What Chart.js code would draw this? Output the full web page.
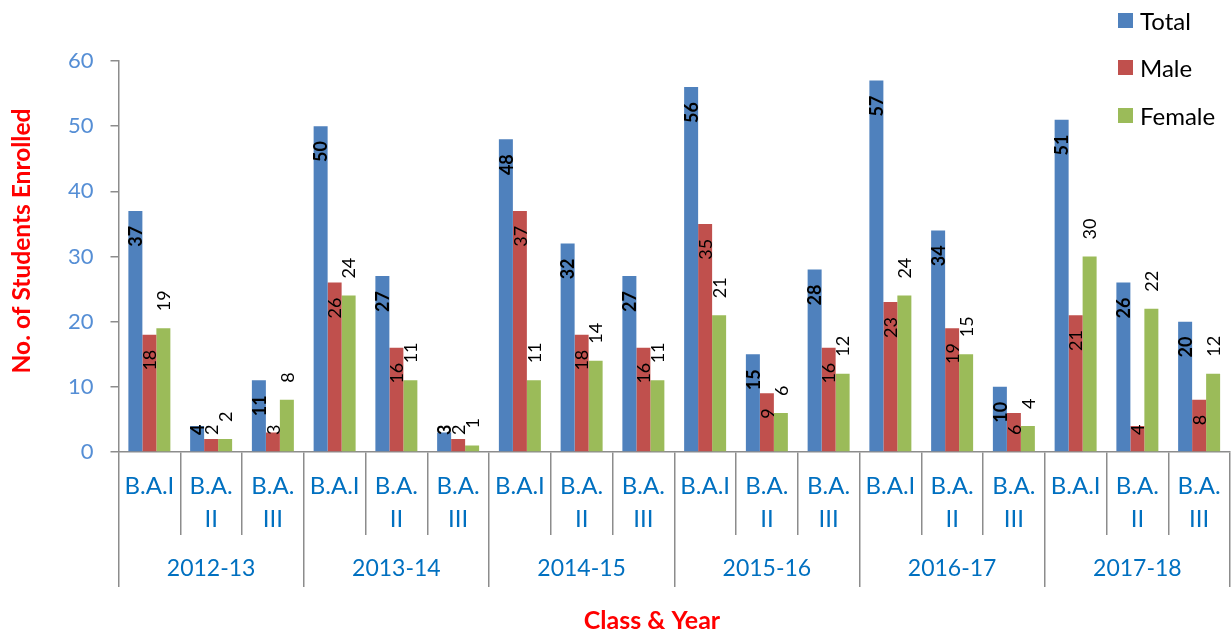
<!DOCTYPE html>
<html lang="en">
<head>
    <meta charset="UTF-8">
    <title>Students Enrolled by Class & Year</title>
    <script src="https://cdn.jsdelivr.net/npm/chart.js"></script>
    <style>
        body { margin: 0; background: #fff; }
        .chart-wrap { position: relative; width: 1231px; height: 637px; }
        #legend {
            position: absolute; left: 1118px; top: 5px;
            font-family: Lato, "Open Sans", sans-serif; font-size: 24px; color: #000;
        }
        #legend .item { display: flex; align-items: center; height: 30px; margin-bottom: 17.5px; }
        #legend .box { width: 15px; height: 15px; margin-right: 7px; }
    </style>
</head>
<body>
    <div class="chart-wrap">
        <canvas id="enrolChart"></canvas>
        <div id="legend"></div>
    </div>

    <script>
    // Data
    const years = ['2012-13', '2013-14', '2014-15', '2015-16', '2016-17', '2017-18'];
    const classNames = [['B.A.I'], ['B.A.', 'II'], ['B.A.', 'III']];
    const seriesNames = ['Total', 'Male', 'Female'];

    const totalValues  = [37, 4, 11,  50, 27, 3,  48, 32, 27,  56, 15, 28,  57, 34, 10,  51, 26, 20];
    const maleValues   = [18, 2, 3,   26, 16, 2,  37, 18, 16,  35, 9, 16,   23, 19, 6,   21, 4, 8];
    const femaleValues = [19, 2, 8,   24, 11, 1,  11, 14, 11,  21, 6, 12,   24, 15, 4,   30, 22, 12];

    const yMax = 60;
    const yStep = 10;

    const categories = years.flatMap(() => classNames);

    const colors = {
        total: '#4F81BD',
        male: '#C0504D',
        female: '#9BBB59',
        axis: '#8C8C8C',
        xText: '#0070C0',
        yText: '#558ED5',
        title: '#FF0000'
    };
    const FONT = 'Lato, "Open Sans", sans-serif';

    // value labels, rotated like the original
    const barLabels = {
        id: 'barLabels',
        afterDatasetsDraw(chart) {
            const ctx = chart.ctx;
            const base = chart.scales.y.getPixelForValue(0);
            chart.data.datasets.forEach((ds, di) => {
                const meta = chart.getDatasetMeta(di);
                ctx.save();
                ctx.font = (ds.labelBold ? 'bold ' : '') + '18px ' + FONT;
                ctx.fillStyle = '#000';
                ctx.textAlign = 'center';
                ctx.textBaseline = 'middle';
                meta.data.forEach((bar, i) => {
                    const text = String(ds.data[i]);
                    const len = ctx.measureText(text).width;
                    let mid;
                    if (ds.labelOutside) {
                        mid = bar.y - 17 - len / 2;
                    } else {
                        let top = bar.y + 15;
                        if (top + len > base - 17) top = base - 17 - len;
                        mid = top + len / 2;
                    }
                    ctx.save();
                    ctx.translate(bar.x + 1, mid);
                    ctx.rotate(-Math.PI / 2);
                    ctx.fillText(text, 0, 0);
                    ctx.restore();
                });
                ctx.restore();
            });
        }
    };

    // axis titles (placed like the original, slightly off-centre)
    const axisTitles = {
        id: 'axisTitles',
        afterDraw(chart) {
            const ctx = chart.ctx;
            ctx.save();
            ctx.fillStyle = colors.title;
            ctx.textAlign = 'center';
            ctx.textBaseline = 'middle';
            ctx.font = 'bold 24.5px ' + FONT;
            ctx.translate(22, 241);
            ctx.rotate(-Math.PI / 2);
            ctx.fillText('No. of Students Enrolled', 0, 0);
            ctx.restore();

            ctx.save();
            ctx.fillStyle = colors.title;
            ctx.textAlign = 'center';
            ctx.textBaseline = 'middle';
            ctx.font = 'bold 25px ' + FONT;
            ctx.fillText('Class & Year', 652, 621);
            ctx.restore();
        }
    };

    const chart = new Chart(document.getElementById('enrolChart'), {
        type: 'bar',
        data: {
            labels: categories,
            datasets: [
                { label: seriesNames[0], data: totalValues, backgroundColor: colors.total, labelBold: true },
                { label: seriesNames[1], data: maleValues, backgroundColor: colors.male },
                { label: seriesNames[2], data: femaleValues, backgroundColor: colors.female, labelOutside: true }
            ]
        },
        options: {
            responsive: true,
            maintainAspectRatio: false,
            animation: false,
            categoryPercentage: 0.68,
            barPercentage: 1,
            layout: { padding: { top: 61, left: 64.5, right: 1, bottom: 50 } },
            plugins: {
                legend: { display: false },
                tooltip: { enabled: false }
            },
            scales: {
                y: {
                    min: 0,
                    max: yMax,
                    ticks: {
                        stepSize: yStep,
                        color: colors.yText,
                        font: { family: FONT, size: 22 },
                        padding: 17
                    },
                    grid: { drawOnChartArea: false, tickLength: 8, color: colors.axis, lineWidth: 1.5 },
                    border: { color: colors.axis, width: 1.5 },
                    afterFit(scale) { scale.width = 54; }
                },
                x: {
                    offset: true,
                    weight: 0,
                    ticks: {
                        autoSkip: false,
                        maxRotation: 0,
                        minRotation: 0,
                        color: colors.xText,
                        font: { family: FONT, size: 24, lineHeight: 33 / 24 },
                        padding: -65.5
                    },
                    grid: { offset: true, drawOnChartArea: false, tickLength: 83, color: colors.axis, lineWidth: 1.5 },
                    border: { color: colors.axis, width: 1.5 },
                    afterFit(scale) { scale.height = 83; }
                },
                x2: {
                    type: 'category',
                    position: 'bottom',
                    labels: years,
                    offset: true,
                    weight: 1,
                    ticks: {
                        autoSkip: false,
                        maxRotation: 0,
                        minRotation: 0,
                        color: colors.xText,
                        font: { family: FONT, size: 23, lineHeight: 28 / 23 },
                        padding: -32
                    },
                    grid: { offset: true, drawOnChartArea: false, tickLength: 52, color: colors.axis, lineWidth: 1.5 },
                    border: { display: false },
                    afterFit(scale) { scale.height = 52; }
                }
            }
        },
        plugins: [barLabels, axisTitles]
    });

    // legend stacked at the top right, as in the original
    const legendEl = document.getElementById('legend');
    chart.data.datasets.forEach(ds => {
        const item = document.createElement('div');
        item.className = 'item';
        const box = document.createElement('span');
        box.className = 'box';
        box.style.background = ds.backgroundColor;
        item.appendChild(box);
        item.appendChild(document.createTextNode(ds.label));
        legendEl.appendChild(item);
    });
    </script>
</body>
</html>
